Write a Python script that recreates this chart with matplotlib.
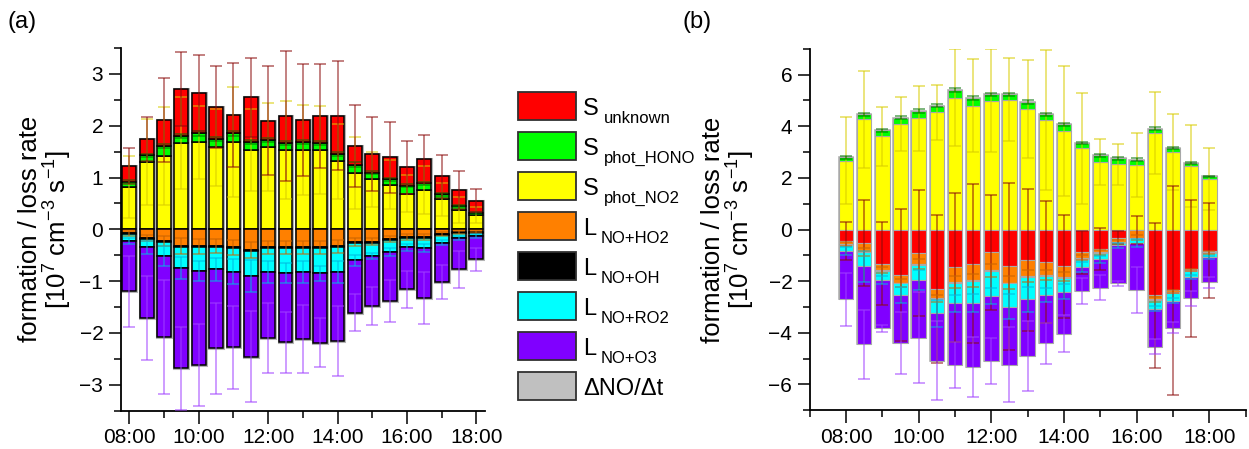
import numpy as np
import matplotlib
matplotlib.use("Agg")
import matplotlib.pyplot as plt
from matplotlib.patches import Rectangle
from matplotlib.ticker import MultipleLocator, FixedLocator

plt.rcParams['font.family'] = ['Liberation Sans', 'DejaVu Sans']
plt.rcParams['mathtext.fontset'] = 'custom'
plt.rcParams['mathtext.rm'] = 'Liberation Sans'
plt.rcParams['mathtext.it'] = 'Liberation Sans:italic'
plt.rcParams['mathtext.default'] = 'regular'

# half-hourly time of day (hours)
hours = [8.0, 8.5, 9.0, 9.5, 10.0, 10.5, 11.0, 11.5, 12.0, 12.5, 13.0,
         13.5, 14.0, 14.5, 15.0, 15.5, 16.0, 16.5, 17.0, 17.5, 18.0]
tick_labels = ["08:00", "10:00", "12:00", "14:00", "16:00", "18:00"]

# ---- panel (a), 10^7 cm-3 s-1 ----
a_phot_no2 = [0.82, 1.29, 1.42, 1.66, 1.68, 1.58, 1.69, 1.53, 1.58, 1.53, 1.53,
              1.53, 1.31, 1.09, 0.97, 0.86, 0.69, 0.76, 0.58, 0.37, 0.28]
a_phot_hono = [0.10, 0.14, 0.18, 0.14, 0.17, 0.16, 0.16, 0.15, 0.14, 0.14, 0.16,
               0.14, 0.14, 0.16, 0.12, 0.11, 0.15, 0.13, 0.10, 0.08, 0.04]
a_unknown = [0.30, 0.31, 0.51, 0.91, 0.78, 0.62, 0.36, 0.87, 0.38, 0.52, 0.42,
             0.52, 0.74, 0.35, 0.36, 0.42, 0.36, 0.47, 0.34, 0.31, 0.23]
a_ho2 = [-0.08, -0.17, -0.23, -0.32, -0.33, -0.32, -0.35, -0.40, -0.35, -0.35, -0.35,
         -0.35, -0.33, -0.25, -0.24, -0.19, -0.15, -0.15, -0.09, -0.06, -0.05]
a_oh = [-0.02, -0.02, -0.02, -0.02, -0.02, -0.02, -0.02, -0.02, -0.02, -0.02, -0.02,
        -0.02, -0.02, -0.02, -0.02, -0.02, -0.02, -0.02, -0.02, -0.02, -0.02]
a_ro2 = [-0.12, -0.16, -0.26, -0.41, -0.45, -0.43, -0.45, -0.49, -0.45, -0.48, -0.45,
         -0.48, -0.48, -0.33, -0.25, -0.23, -0.18, -0.19, -0.15, -0.09, -0.06]
a_o3 = [-0.98, -1.36, -1.57, -1.93, -1.82, -1.53, -1.46, -1.55, -1.28, -1.33, -1.30,
        -1.34, -1.33, -1.01, -0.97, -0.94, -0.81, -0.96, -0.75, -0.60, -0.45]

a_err_unknown = [0.34, 0.42, 0.82, 0.71, 0.74, 0.80, 1.01, 0.76, 1.05, 1.26, 1.08,
                 1.01, 1.05, 0.79, 0.71, 0.69, 0.51, 0.46, 0.41, 0.37, 0.22]
a_err_hono = [0.03, 0.03, 0.04, 0.04, 0.04, 0.04, 0.04, 0.04, 0.04, 0.04, 0.04,
              0.04, 0.04, 0.04, 0.03, 0.03, 0.03, 0.03, 0.03, 0.02, 0.02]
a_err_no2 = [0.60, 0.83, 0.95, 0.89, 0.70, 0.75, 1.06, 0.80, 0.85, 0.94, 0.86,
             0.85, 0.73, 0.70, 0.53, 0.47, 0.35, 0.47, 0.32, 0.25, 0.15]
a_err_ho2 = [0.04, 0.06, 0.10, 0.15, 0.14, 0.13, 0.14, 0.15, 0.13, 0.13, 0.13,
             0.13, 0.13, 0.08, 0.07, 0.06, 0.05, 0.05, 0.04, 0.03, 0.02]
a_err_ro2 = [0.06, 0.13, 0.19, 0.21, 0.19, 0.22, 0.24, 0.31, 0.21, 0.19, 0.21,
             0.15, 0.21, 0.10, 0.06, 0.08, 0.06, 0.07, 0.05, 0.04, 0.03]
a_err_o3 = [0.69, 0.81, 1.10, 0.80, 0.80, 0.87, 0.80, 0.88, 0.67, 0.59, 0.65,
            0.47, 0.67, 0.36, 0.37, 0.40, 0.35, 0.50, 0.33, 0.36, 0.22]

# ---- panel (b), 10^7 cm-3 s-1 ----
b_phot_no2 = [2.66, 4.27, 3.61, 4.08, 4.30, 4.54, 5.11, 4.80, 4.98, 5.03, 4.67,
              4.23, 3.82, 3.14, 2.62, 2.52, 2.49, 3.74, 3.01, 2.46, 1.97]
b_phot_hono = [0.13, 0.19, 0.24, 0.24, 0.28, 0.25, 0.28, 0.30, 0.25, 0.21, 0.27,
               0.23, 0.26, 0.21, 0.26, 0.23, 0.22, 0.17, 0.13, 0.13, 0.09]
b_unknown = [-0.44, -0.52, -1.32, -1.77, -0.90, -2.31, -1.47, -1.32, -0.89, -1.42, -1.19,
             -1.25, -1.42, -0.89, -0.76, -0.31, -0.02, -2.54, -2.35, -1.51, -0.83]
b_ho2 = [-0.13, -0.34, -0.25, -0.29, -0.44, -0.36, -0.56, -0.64, -0.68, -0.64, -0.62,
         -0.52, -0.41, -0.21, -0.13, -0.17, -0.29, -0.17, -0.06, -0.06, -0.06]
b_oh = [-0.03, -0.03, -0.03, -0.03, -0.03, -0.03, -0.03, -0.03, -0.03, -0.03, -0.03,
        -0.03, -0.03, -0.03, -0.03, -0.03, -0.03, -0.03, -0.03, -0.03, -0.03]
b_ro2 = [-0.24, -0.53, -0.36, -0.45, -0.59, -0.55, -0.80, -0.85, -0.98, -0.90, -0.86,
         -0.74, -0.55, -0.32, -0.24, -0.10, -0.18, -0.32, -0.32, -0.23, -0.16]
b_o3 = [-1.87, -3.03, -1.87, -1.85, -2.23, -1.83, -2.37, -2.48, -2.52, -2.24, -2.19,
        -1.87, -1.62, -0.94, -1.10, -1.48, -1.83, -1.48, -1.05, -0.84, -0.97]

b_err_hono = [0.05, 0.06, 0.06, 0.06, 0.07, 0.06, 0.07, 0.07, 0.06, 0.06, 0.07,
              0.06, 0.06, 0.05, 0.06, 0.05, 0.05, 0.05, 0.04, 0.04, 0.03]
b_err_no2 = [1.68, 1.87, 1.14, 1.06, 1.26, 1.07, 1.88, 1.81, 1.99, 1.62, 1.91,
             2.71, 2.52, 2.15, 0.88, 0.78, 1.23, 1.59, 1.48, 1.58, 1.20]
b_err_unknown = [0.74, 1.65, 1.61, 2.56, 2.43, 2.87, 2.89, 3.08, 2.24, 3.23, 2.74,
                 2.36, 2.00, 0.85, 0.82, 0.25, 0.55, 2.81, 4.05, 2.65, 1.84]
b_err_ho2 = [0.08, 0.15, 0.12, 0.15, 0.18, 0.15, 0.22, 0.25, 0.25, 0.25, 0.24,
             0.20, 0.18, 0.10, 0.08, 0.08, 0.10, 0.08, 0.05, 0.05, 0.04]
b_err_ro2 = [0.15, 0.60, 0.15, 0.30, 0.40, 0.52, 0.32, 0.35, 0.30, 0.48, 0.49,
             0.26, 0.30, 0.20, 0.15, 0.10, 0.15, 0.10, 0.10, 0.08, 0.05]
b_err_o3 = [1.03, 1.34, 0.12, 1.21, 1.77, 1.53, 0.89, 1.16, 0.90, 1.44, 1.36,
            0.78, 0.73, 0.51, 0.48, 0.10, 0.90, 0.29, 0.21, 0.30, 0.23]

# legend entries: main symbol, subscript
legend_main = ['S', 'S', 'S', 'L', 'L', 'L', 'L', u'\u0394NO/\u0394t']
legend_sub = ['unknown', 'phot_HONO', 'phot_NO2', 'NO+HO2', 'NO+OH', 'NO+RO2', 'NO+O3', '']

colors = {'unknown': '#ff0000', 'hono': '#00ff00', 'no2': '#ffff00', 'ho2': '#ff8000',
          'oh': '#000000', 'ro2': '#00ffff', 'o3': '#8000ff', 'dno': '#c0c0c0'}
errcolors = {'unknown': '#8b0a0a', 'hono': '#007000', 'no2': '#d8cc00', 'ho2': '#c86400',
             'oh': '#000000', 'ro2': '#00b8e0', 'o3': '#a040ff'}

W = 0.4


def draw_panel(ax, pos, neg, edge, edge_lw, halo_lw):
    x = np.array(hours)
    # Delta NO / Delta t bars (grey, behind the stacks)
    ptot = np.sum([np.array(v) for k, v, e in pos], axis=0)
    ntot = np.sum([np.array(v) for k, v, e in neg], axis=0)
    ax.bar(x, ptot - ntot, bottom=ntot, width=W, color=colors['dno'],
           edgecolor='#b4b4b4', linewidth=halo_lw, zorder=1)
    ends = []
    for stack in (pos, neg):
        base = np.zeros(len(x))
        for key, vals, errs in stack:
            v = np.array(vals)
            ax.bar(x, v, bottom=base, width=W, color=colors[key],
                   edgecolor=edge, linewidth=edge_lw, zorder=2)
            base = base + v
            if errs is not None:
                ends.append((key, base.copy(), errs))
    for key, yv, errs in ends:
        ax.errorbar(x, yv, yerr=errs, fmt='none', ecolor=errcolors[key],
                    elinewidth=1.2, capsize=4.5, capthick=1.2, alpha=0.6, zorder=3)


def style_axes(ax, xlim, ylim, ymaj, ymin):
    ax.set_xlim(*xlim)
    ax.set_ylim(*ylim)
    for s in ('top', 'right'):
        ax.spines[s].set_visible(False)
    for s in ('left', 'bottom'):
        ax.spines[s].set_linewidth(1.3)
    ax.xaxis.set_major_locator(FixedLocator([8, 10, 12, 14, 16, 18]))
    ax.set_xticklabels(tick_labels)
    ax.xaxis.set_minor_locator(MultipleLocator(1))
    ax.yaxis.set_major_locator(MultipleLocator(ymaj))
    ax.yaxis.set_minor_locator(MultipleLocator(ymin))
    ax.tick_params(which='major', direction='out', length=9, width=1.1, labelsize=15)
    ax.tick_params(which='minor', direction='out', length=5, width=1.1)
    ax.set_ylabel('formation / loss rate\n[10$^{7}$ cm$^{-3}$ s$^{-1}$]',
                  fontsize=18.5, linespacing=1.0)


fig = plt.figure(figsize=(12.49, 4.49), dpi=100)

ax_a = fig.add_axes([120.7 / 1249, 1 - 410.6 / 449, 364.3 / 1249, 362.6 / 449])
draw_panel(ax_a,
           [('no2', a_phot_no2, a_err_no2), ('hono', a_phot_hono, a_err_hono),
            ('unknown', a_unknown, a_err_unknown)],
           [('ho2', a_ho2, a_err_ho2), ('oh', a_oh, None), ('ro2', a_ro2, a_err_ro2),
            ('o3', a_o3, a_err_o3)],
           edge='#000000', edge_lw=1.1, halo_lw=2.2)
style_axes(ax_a, (7.75, 18.25), (-3.5, 3.5), 1, 0.5)
ax_a.yaxis.set_label_coords(-0.128, 0.5)

ax_b = fig.add_axes([809.7 / 1249, 1 - 410.3 / 449, 435.9 / 1249, 361.6 / 449])
draw_panel(ax_b,
           [('no2', b_phot_no2, b_err_no2), ('hono', b_phot_hono, b_err_hono)],
           [('unknown', b_unknown, b_err_unknown), ('ho2', b_ho2, b_err_ho2),
            ('oh', b_oh, None), ('ro2', b_ro2, b_err_ro2), ('o3', b_o3, b_err_o3)],
           edge='#a8a8a8', edge_lw=0.8, halo_lw=1.2)
style_axes(ax_b, (7, 19), (-7, 7), 2, 1)
ax_b.yaxis.set_label_coords(-0.121, 0.5)

fig.text(22 / 1249, 1 - 22 / 449, '(a)', fontsize=17, ha='center', va='center')
fig.text(697 / 1249, 1 - 22 / 449, '(b)', fontsize=17, ha='center', va='center')

# legend (drawn by hand so the subscripts sit like in the original)
keys = ['unknown', 'hono', 'no2', 'ho2', 'oh', 'ro2', 'o3', 'dno']
renderer = fig.canvas.get_renderer()
for i, key in enumerate(keys):
    yc = 106 + 40 * i
    fig.patches.append(Rectangle((518 / 1249, 1 - (yc + 14) / 449), 58 / 1249, 28 / 449,
                                 transform=fig.transFigure, facecolor=colors[key],
                                 edgecolor='#303030', linewidth=1.3))
    t = fig.text(583 / 1249, 1 - (yc + 9) / 449, legend_main[i], fontsize=17,
                 ha='left', va='baseline')
    if legend_sub[i]:
        x1 = t.get_window_extent(renderer).x1
        fig.text((x1 + 5) / 1249, 1 - (yc + 17) / 449, legend_sub[i], fontsize=12,
                 ha='left', va='baseline')

fig.savefig('out.png', dpi=100)
